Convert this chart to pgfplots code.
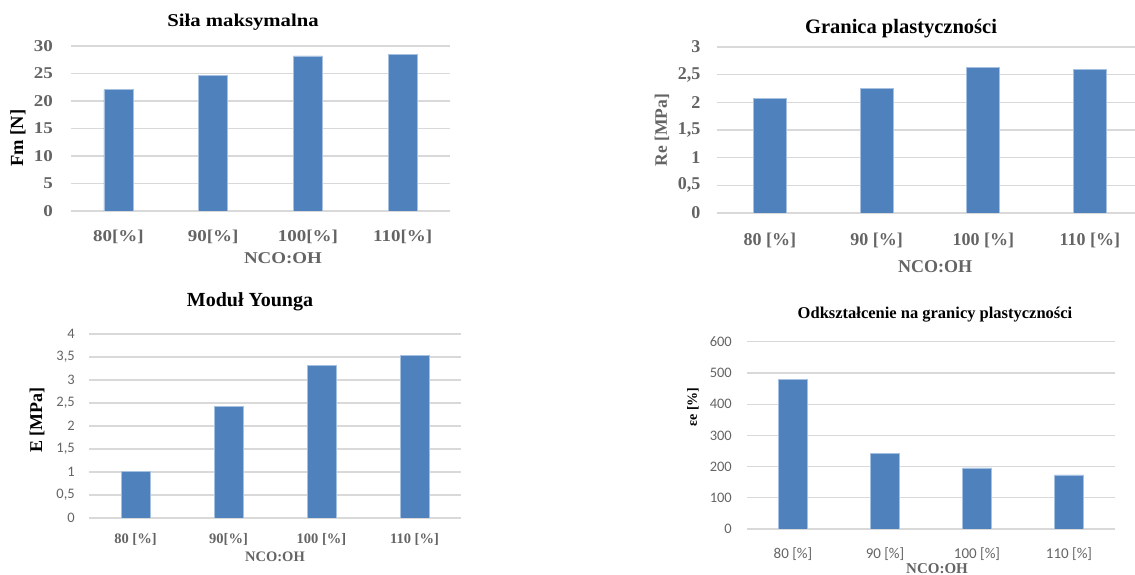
\documentclass[border=0pt]{standalone}
\usepackage{pgfplots}
\pgfplotsset{compat=1.18}
\usepackage{fontspec}
\setmainfont{Liberation Serif}
\newfontfamily\calibri{Carlito}
\newfontfamily\wideserif[FakeStretch=1.15]{Liberation Serif}
\definecolor{barblue}{RGB}{79,129,189}
\definecolor{baredge}{RGB}{165,192,225}
\definecolor{gridgray}{RGB}{217,217,217}
\definecolor{labgray}{RGB}{100,100,100}

\pgfplotsset{
  panel/.style={
    scale only axis, anchor=south west,
    ybar, bar width=29pt,
    xmin=-0.5, xmax=3.5, xtick={0,1,2,3},
    axis line style={draw=none}, tick style={draw=none},
    ymajorgrids, major grid style={gridgray, line width=1.2pt},
    ymin=0,
    /pgf/number format/use comma,
    /pgf/number format/assume math mode=true,
    xticklabel style={anchor=center, inner sep=0pt, text=labgray},
    yticklabel style={anchor=east, inner sep=0pt, text=labgray},
  },
  barstyle/.style={fill=barblue, draw=baredge, line width=0.6pt},
}

\begin{document}
\begin{tikzpicture}[x=1pt,y=1pt]
% ---------- Sila maksymalna ----------
\begin{axis}[panel, at={(71pt,364pt)}, width=379pt, height=165pt,
  ymax=30, ytick={0,5,10,15,20,25,30},
  xticklabels={80[\%],90[\%],100[\%],110[\%]},
  xticklabel style={font=\wideserif\bfseries\fontsize{16.5}{18}\selectfont, yshift=-22pt},
  yticklabel style={font=\wideserif\bfseries\fontsize{16.5}{18}\selectfont, xshift=-18pt}]
\addplot[barstyle] coordinates {(0,22.1) (1,24.7) (2,28.2) (3,28.5)};
\end{axis}
\node[font=\wideserif\bfseries\fontsize{18}{20}\selectfont] at (243,553) {Siła maksymalna};
\node[font=\wideserif\bfseries\fontsize{16.5}{18}\selectfont, text=labgray] at (283,317) {NCO:OH};
\node[font=\bfseries\fontsize{18.5}{20}\selectfont, rotate=90] at (18,437) {Fm [N]};

% ---------- Granica plastycznosci ----------
\begin{axis}[panel, at={(716.6pt,362pt)}, width=426.7pt, height=166pt,
  bar width=33pt,
  ymax=3, ytick={0,0.5,1,1.5,2,2.5,3},
  xticklabels={80 [\%],90 [\%],100 [\%],110 [\%]},
  xticklabel style={font=\bfseries\fontsize{18}{20}\selectfont, yshift=-23pt},
  yticklabel style={font=\bfseries\fontsize{18}{20}\selectfont, xshift=-16pt}]
\addplot[barstyle] coordinates {(0,2.07) (1,2.25) (2,2.63) (3,2.60)};
\end{axis}
\node[font=\bfseries\fontsize{20.5}{22}\selectfont] at (901,546) {Granica plastyczności};
\node[font=\bfseries\fontsize{18}{20}\selectfont, text=labgray] at (935,308) {NCO:OH};
\node[font=\bfseries\fontsize{17.5}{19}\selectfont, rotate=90, text=labgray] at (662,445) {Re [MPa]};

% ---------- Modul Younga ----------
\begin{axis}[panel, at={(89pt,57pt)}, width=372pt, height=184pt,
  ymax=4, ytick={0,0.5,1,1.5,2,2.5,3,3.5,4},
  xticklabels={80 [\%],90[\%],100 [\%],110 [\%]},
  xticklabel style={font=\bfseries\fontsize{14.5}{16}\selectfont, yshift=-17pt},
  yticklabel style={font=\calibri\fontsize{14.5}{16}\selectfont, xshift=-14pt}]
\addplot[barstyle] coordinates {(0,1.01) (1,2.42) (2,3.31) (3,3.53)};
\end{axis}
\node[font=\bfseries\fontsize{20}{22}\selectfont] at (250,273) {Moduł Younga};
\node[font=\bfseries\fontsize{14.5}{16}\selectfont, text=labgray] at (275,18) {NCO:OH};
\node[font=\bfseries\fontsize{18}{20}\selectfont, rotate=90] at (37,155) {E [MPa]};

% ---------- Odksztalcenie na granicy plastycznosci ----------
\begin{axis}[panel, at={(747pt,46pt)}, width=368pt, height=187.3pt,
  bar width=28.5pt,
  ymax=600, ytick={0,100,200,300,400,500,600},
  xticklabels={80 [\%],90 [\%],100 [\%],110 [\%]},
  xticklabel style={font=\calibri\fontsize{15}{17}\selectfont, yshift=-21pt},
  yticklabel style={font=\calibri\fontsize{14.5}{16}\selectfont, xshift=-15pt}]
\addplot[barstyle] coordinates {(0,480) (1,241) (2,196) (3,173)};
\end{axis}
\node[font=\bfseries\fontsize{16.5}{18}\selectfont] at (935,260) {Odkształcenie na granicy plastyczności};
\node[font=\bfseries\fontsize{15}{17}\selectfont, text=labgray] at (937,6) {NCO:OH};
\node[font=\bfseries\fontsize{14}{16}\selectfont, rotate=90] at (693,168) {εe [\%]};

\pgfresetboundingbox
\useasboundingbox (0,0) rectangle (1135,575);
\end{tikzpicture}
\end{document}
